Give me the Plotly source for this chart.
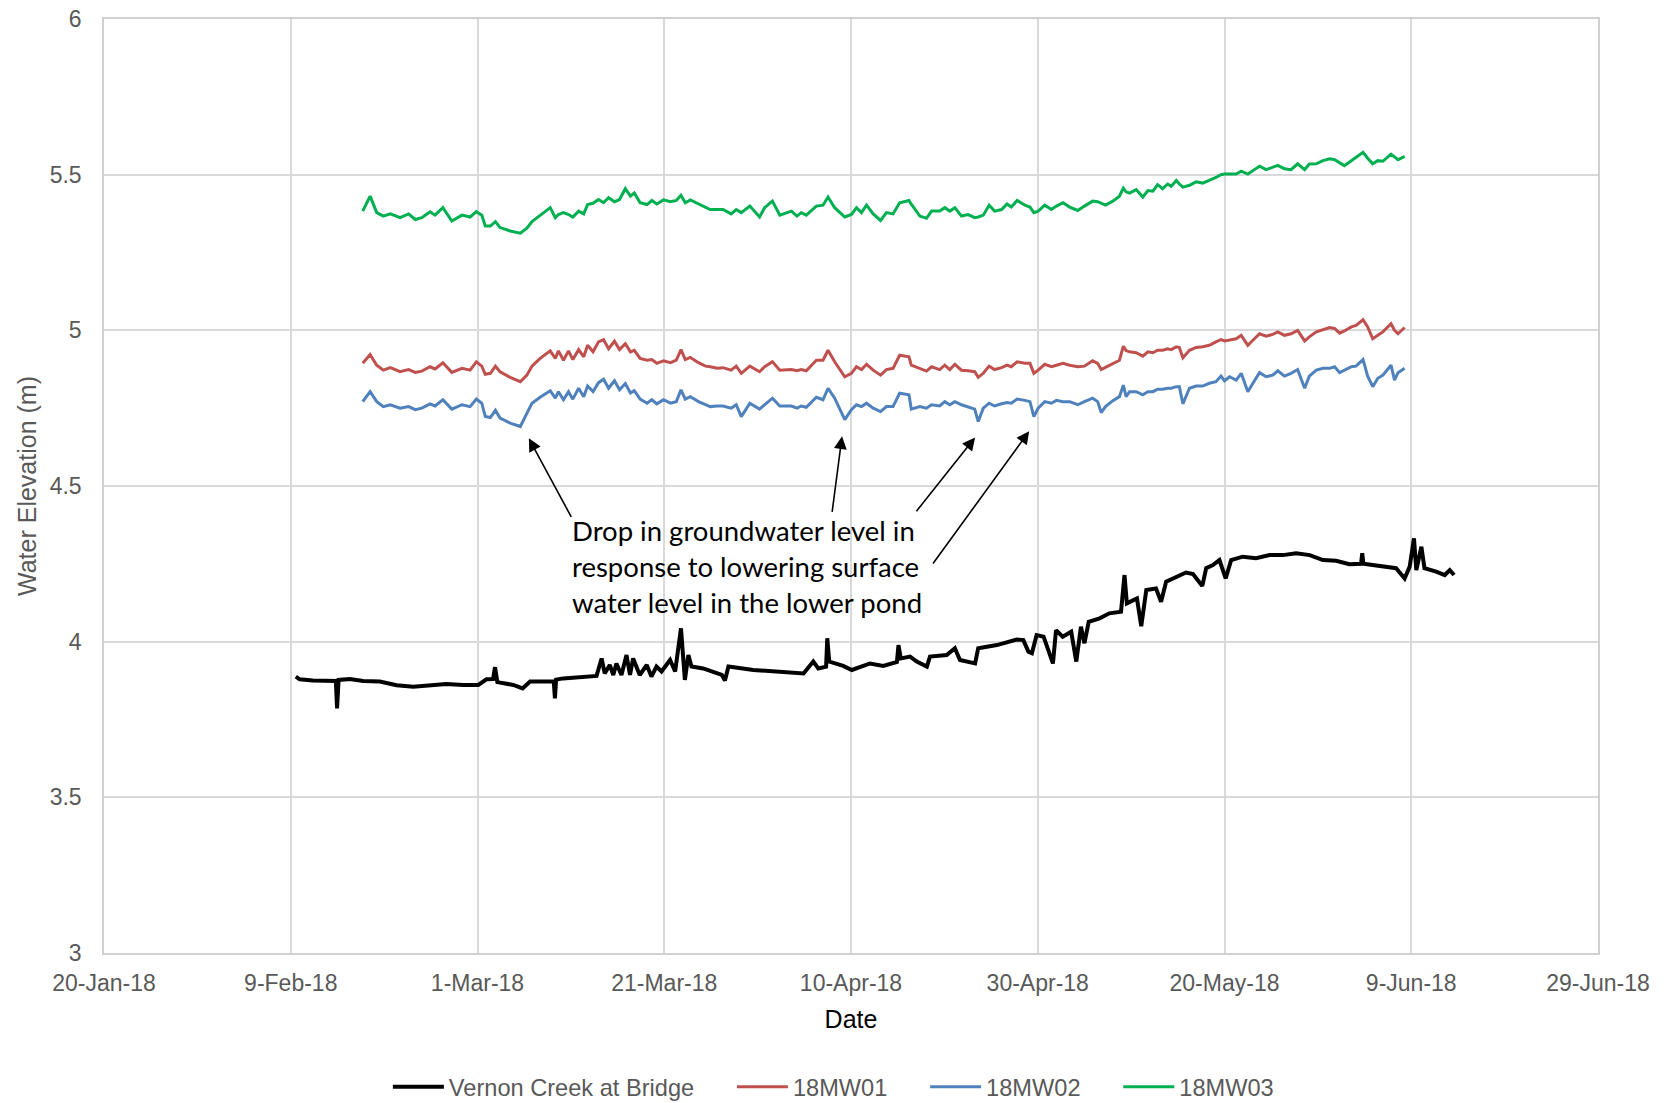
import plotly.graph_objects as go

# ---------------- data ----------------
mw_dates = [
    "2018-02-16 17:00", "2018-02-17 12:00", "2018-02-18 05:00", "2018-02-18 22:00", "2018-02-19 16:00",
    "2018-02-20 17:00", "2018-02-21 15:00", "2018-02-22 08:00", "2018-02-23 01:00", "2018-02-23 22:00",
    "2018-02-24 11:00", "2018-02-25 07:00", "2018-02-26 06:00", "2018-02-27 08:00", "2018-02-28 05:00",
    "2018-02-28 21:00", "2018-03-01 11:00", "2018-03-01 20:00", "2018-03-02 09:00", "2018-03-02 22:00",
    "2018-03-03 10:00", "2018-03-04 12:00", "2018-03-05 14:00", "2018-03-06 07:00", "2018-03-06 20:00",
    "2018-03-07 17:00", "2018-03-08 19:00", "2018-03-09 08:00", "2018-03-09 16:00", "2018-03-10 05:00",
    "2018-03-10 18:00", "2018-03-11 05:00", "2018-03-11 20:00", "2018-03-12 09:00", "2018-03-12 19:00",
    "2018-03-13 09:00", "2018-03-13 23:00", "2018-03-14 12:00", "2018-03-15 01:00", "2018-03-15 16:00",
    "2018-03-16 05:00", "2018-03-16 20:00", "2018-03-17 09:00", "2018-03-17 19:00", "2018-03-18 10:00",
    "2018-03-19 04:00", "2018-03-19 16:00", "2018-03-20 05:00", "2018-03-20 22:00", "2018-03-21 16:00",
    "2018-03-22 07:00", "2018-03-22 19:00", "2018-03-23 06:00", "2018-03-23 19:00", "2018-03-24 16:00",
    "2018-03-25 10:00", "2018-03-25 22:00", "2018-03-26 16:00",
    "2018-03-27 07:00", "2018-03-28 04:00", "2018-03-28 17:00", "2018-03-29 06:00", "2018-03-30 04:00",
    "2018-03-31 05:00", "2018-03-31 18:00", "2018-04-01 14:00", "2018-04-02 09:00", "2018-04-03 15:00",
    "2018-04-04 05:00", "2018-04-04 16:00", "2018-04-05 05:00", "2018-04-06 07:00", "2018-04-07 00:00",
    "2018-04-07 13:00", "2018-04-08 06:00", "2018-04-09 08:00", "2018-04-10 01:00", "2018-04-10 14:00",
    "2018-04-11 03:00", "2018-04-11 16:00", "2018-04-12 09:00", "2018-04-13 04:00", "2018-04-13 19:00",
    "2018-04-14 12:00", "2018-04-15 05:00", "2018-04-16 05:00", "2018-04-16 11:00", "2018-04-17 09:00",
    "2018-04-18 02:00", "2018-04-18 15:00", "2018-04-19 12:00", "2018-04-20 01:00", "2018-04-20 14:00",
    "2018-04-21 03:00", "2018-04-21 20:00", "2018-04-22 13:00", "2018-04-23 06:00", "2018-04-23 15:00",
    "2018-04-24 04:00", "2018-04-24 19:00", "2018-04-25 09:00", "2018-04-26 03:00", "2018-04-26 17:00",
    "2018-04-27 04:00", "2018-04-27 19:00", "2018-04-28 15:00", "2018-04-29 04:00", "2018-04-29 14:00",
    "2018-04-30 01:00", "2018-04-30 18:00", "2018-05-01 11:00", "2018-05-02 00:00", "2018-05-02 17:00",
    "2018-05-03 10:00", "2018-05-04 03:00",
    "2018-05-04 07:00", "2018-05-05 00:00", "2018-05-05 21:00", "2018-05-06 10:00", "2018-05-06 19:00",
    "2018-05-07 06:00", "2018-05-08 01:00", "2018-05-08 18:00", "2018-05-09 04:00", "2018-05-09 11:00",
    "2018-05-09 20:00", "2018-05-10 13:00", "2018-05-11 06:00", "2018-05-11 19:00", "2018-05-12 08:00",
    "2018-05-12 20:00", "2018-05-13 09:00", "2018-05-13 22:00", "2018-05-14 07:00", "2018-05-14 20:00",
    "2018-05-15 04:00", "2018-05-15 13:00", "2018-05-16 06:00", "2018-05-16 23:00", "2018-05-17 16:00",
    "2018-05-18 09:00", "2018-05-19 02:00", "2018-05-19 15:00", "2018-05-20 00:00", "2018-05-20 13:00",
    "2018-05-21 06:00", "2018-05-21 19:00", "2018-05-22 12:00", "2018-05-23 01:00", "2018-05-23 18:00",
    "2018-05-24 11:00", "2018-05-25 04:00", "2018-05-25 17:00", "2018-05-26 10:00", "2018-05-27 03:00",
    "2018-05-27 20:00", "2018-05-28 14:00", "2018-05-29 02:00", "2018-05-29 20:00", "2018-05-30 13:00",
    "2018-05-31 06:00", "2018-05-31 19:00", "2018-06-01 08:00", "2018-06-01 20:00", "2018-06-02 14:00",
    "2018-06-03 02:00", "2018-06-03 20:00", "2018-06-04 08:00", "2018-06-04 21:00", "2018-06-05 10:00",
    "2018-06-05 23:00", "2018-06-06 20:00", "2018-06-07 05:00", "2018-06-07 14:00", "2018-06-08 07:00",
]

mw03 = [
    5.383, 5.431, 5.378, 5.367, 5.374, 5.362, 5.374, 5.356, 5.362, 5.381,
    5.370, 5.394, 5.351, 5.370, 5.364, 5.381, 5.370, 5.335, 5.335, 5.349,
    5.330, 5.319, 5.312, 5.328, 5.349, 5.370, 5.394, 5.362, 5.372, 5.378,
    5.372, 5.364, 5.383, 5.374, 5.404, 5.408, 5.420, 5.410, 5.426, 5.413,
    5.420, 5.455, 5.431, 5.441, 5.410, 5.404, 5.417, 5.406, 5.419, 5.413,
    5.417, 5.434, 5.410, 5.419, 5.406, 5.396, 5.388, 5.388,
    5.388, 5.374, 5.388, 5.378, 5.399, 5.364, 5.394, 5.415, 5.370, 5.383,
    5.367, 5.378, 5.370, 5.399, 5.402, 5.428, 5.394, 5.364, 5.372, 5.394,
    5.378, 5.402, 5.374, 5.353, 5.378, 5.374, 5.410, 5.417, 5.405, 5.367,
    5.360, 5.383, 5.383, 5.394, 5.383, 5.394, 5.367, 5.372, 5.362, 5.364,
    5.370, 5.402, 5.383, 5.388, 5.406, 5.396, 5.417, 5.402, 5.396, 5.378,
    5.383, 5.402, 5.388, 5.399, 5.410, 5.396, 5.388,
    5.385, 5.399, 5.415, 5.413, 5.408, 5.402, 5.415, 5.431, 5.457, 5.445,
    5.441, 5.452, 5.428, 5.449, 5.447, 5.468, 5.455, 5.470, 5.463, 5.481,
    5.470, 5.460, 5.466, 5.477, 5.473, 5.481, 5.491, 5.500, 5.502, 5.502,
    5.502, 5.511, 5.502, 5.513, 5.527, 5.516, 5.523, 5.530, 5.519, 5.516,
    5.535, 5.516, 5.534, 5.535, 5.545, 5.551, 5.548, 5.537, 5.529, 5.545,
    5.555, 5.572, 5.553, 5.535, 5.545, 5.543, 5.566, 5.558, 5.548, 5.559,
]

mw01 = [
    4.894, 4.922, 4.888, 4.872, 4.880, 4.867, 4.874, 4.865, 4.869, 4.883,
    4.876, 4.896, 4.865, 4.878, 4.872, 4.899, 4.885, 4.859, 4.862, 4.885,
    4.867, 4.849, 4.835, 4.856, 4.885, 4.910, 4.934, 4.910, 4.934, 4.904,
    4.934, 4.906, 4.938, 4.915, 4.952, 4.931, 4.963, 4.970, 4.941, 4.965,
    4.938, 4.957, 4.931, 4.936, 4.910, 4.904, 4.906, 4.894, 4.902, 4.896,
    4.904, 4.938, 4.906, 4.913, 4.896, 4.885, 4.883, 4.878,
    4.880, 4.872, 4.885, 4.862, 4.885, 4.867, 4.883, 4.899, 4.872, 4.874,
    4.870, 4.874, 4.870, 4.904, 4.904, 4.936, 4.899, 4.851, 4.862, 4.883,
    4.874, 4.891, 4.872, 4.856, 4.874, 4.878, 4.920, 4.915, 4.888, 4.878,
    4.869, 4.883, 4.874, 4.888, 4.874, 4.891, 4.872, 4.870, 4.867, 4.849,
    4.862, 4.885, 4.874, 4.880, 4.888, 4.883, 4.899, 4.894, 4.894, 4.862,
    4.872, 4.891, 4.883, 4.888, 4.894, 4.888, 4.883,
    4.883, 4.885, 4.902, 4.894, 4.874, 4.881, 4.894, 4.904, 4.949, 4.935,
    4.931, 4.928, 4.917, 4.931, 4.928, 4.936, 4.936, 4.941, 4.938, 4.947,
    4.945, 4.912, 4.936, 4.945, 4.947, 4.952, 4.963, 4.970, 4.966, 4.968,
    4.973, 4.984, 4.952, 4.968, 4.989, 4.981, 4.987, 4.995, 4.984, 4.989,
    5.000, 4.966, 4.979, 4.995, 5.002, 5.009, 5.006, 4.991, 4.998, 5.011,
    5.016, 5.034, 5.011, 4.973, 4.984, 4.995, 5.021, 5.000, 4.989, 5.009,
]

mw02 = [
    4.771, 4.803, 4.771, 4.755, 4.761, 4.750, 4.755, 4.745, 4.750, 4.764,
    4.757, 4.777, 4.747, 4.761, 4.755, 4.779, 4.766, 4.723, 4.720, 4.743,
    4.718, 4.702, 4.691, 4.734, 4.766, 4.785, 4.806, 4.782, 4.803, 4.777,
    4.803, 4.779, 4.814, 4.787, 4.821, 4.803, 4.832, 4.843, 4.814, 4.838,
    4.809, 4.829, 4.799, 4.806, 4.779, 4.766, 4.777, 4.764, 4.777, 4.766,
    4.771, 4.809, 4.779, 4.787, 4.771, 4.761, 4.755, 4.757,
    4.757, 4.750, 4.761, 4.723, 4.766, 4.747, 4.761, 4.782, 4.757, 4.757,
    4.750, 4.757, 4.753, 4.785, 4.777, 4.814, 4.782, 4.713, 4.745, 4.761,
    4.755, 4.766, 4.750, 4.739, 4.755, 4.755, 4.798, 4.793, 4.747, 4.755,
    4.750, 4.761, 4.757, 4.771, 4.761, 4.771, 4.761, 4.755, 4.747, 4.707,
    4.750, 4.766, 4.757, 4.764, 4.768, 4.766, 4.779, 4.775, 4.771, 4.723,
    4.750, 4.771, 4.766, 4.775, 4.771, 4.771, 4.764,
    4.761, 4.771, 4.782, 4.771, 4.736, 4.755, 4.774, 4.787, 4.824, 4.787,
    4.803, 4.803, 4.793, 4.803, 4.803, 4.811, 4.811, 4.814, 4.814, 4.819,
    4.819, 4.764, 4.814, 4.821, 4.821, 4.830, 4.835, 4.853, 4.838, 4.851,
    4.840, 4.862, 4.803, 4.830, 4.864, 4.851, 4.856, 4.870, 4.853, 4.862,
    4.874, 4.814, 4.853, 4.872, 4.878, 4.878, 4.883, 4.864, 4.872, 4.883,
    4.885, 4.906, 4.853, 4.819, 4.846, 4.856, 4.888, 4.840, 4.864, 4.878,
]

creek_dates = [
    "2018-02-09 13:00", "2018-02-09 23:00", "2018-02-11 09:00", "2018-02-13 04:00", "2018-02-13 20:00",
    "2018-02-13 23:00", "2018-02-14 03:00", "2018-02-15 08:00", "2018-02-16 18:00", "2018-02-18 13:00",
    "2018-02-20 08:00", "2018-02-22 03:00", "2018-02-23 21:00", "2018-02-25 16:00", "2018-02-27 11:00",
    "2018-03-01 02:00", "2018-03-01 23:00", "2018-03-02 16:00", "2018-03-02 21:00", "2018-03-03 03:00",
    "2018-03-04 20:00", "2018-03-05 20:00", "2018-03-06 15:00", "2018-03-08 09:00", "2018-03-09 04:00",
    "2018-03-09 07:00", "2018-03-09 10:00", "2018-03-10 04:00", "2018-03-11 23:00", "2018-03-13 18:00",
    "2018-03-14 07:00", "2018-03-14 15:00", "2018-03-15 04:00", "2018-03-15 13:00", "2018-03-15 21:00",
    "2018-03-16 10:00", "2018-03-16 23:00", "2018-03-17 08:00", "2018-03-17 16:00", "2018-03-18 09:00",
    "2018-03-19 03:00", "2018-03-19 15:00", "2018-03-20 04:00", "2018-03-20 17:00",
    "2018-03-21 15:00", "2018-03-22 04:00", "2018-03-22 19:00", "2018-03-23 05:00", "2018-03-23 14:00",
    "2018-03-23 22:00", "2018-03-25 04:00", "2018-03-27 04:00", "2018-03-27 12:00", "2018-03-27 21:00",
    "2018-03-30 13:00", "2018-04-02 10:00", "2018-04-04 22:00", "2018-04-05 23:00", "2018-04-06 12:00",
    "2018-04-07 08:00", "2018-04-07 11:00", "2018-04-07 16:00", "2018-04-09 04:00", "2018-04-10 02:00",
    "2018-04-12 01:00", "2018-04-13 11:00", "2018-04-14 22:00", "2018-04-15 02:00", "2018-04-15 08:00",
    "2018-04-16 08:00", "2018-04-17 01:00", "2018-04-18 03:00", "2018-04-18 11:00", "2018-04-20 06:00",
    "2018-04-21 03:00", "2018-04-21 16:00", "2018-04-23 07:00", "2018-04-23 15:00", "2018-04-25 15:00",
    "2018-04-27 18:00", "2018-04-28 11:00", "2018-04-29 00:00", "2018-04-29 09:00", "2018-04-29 21:00",
    "2018-04-30 15:00",
    "2018-05-01 15:00", "2018-05-01 23:00", "2018-05-02 16:00", "2018-05-03 14:00", "2018-05-04 03:00",
    "2018-05-04 15:00", "2018-05-05 00:00", "2018-05-05 11:00", "2018-05-06 15:00", "2018-05-07 16:00",
    "2018-05-08 22:00", "2018-05-09 07:00", "2018-05-09 13:00", "2018-05-10 15:00", "2018-05-11 02:00",
    "2018-05-11 15:00", "2018-05-12 16:00", "2018-05-13 05:00", "2018-05-13 18:00", "2018-05-14 20:00",
    "2018-05-15 21:00", "2018-05-16 15:00", "2018-05-17 15:00", "2018-05-18 01:00", "2018-05-18 18:00",
    "2018-05-19 11:00", "2018-05-20 03:00", "2018-05-20 17:00", "2018-05-21 23:00", "2018-05-23 09:00",
    "2018-05-24 20:00", "2018-05-26 06:00", "2018-05-27 16:00", "2018-05-29 03:00", "2018-05-30 13:00",
    "2018-05-31 23:00", "2018-06-02 09:00", "2018-06-03 15:00", "2018-06-03 18:00", "2018-06-03 21:00",
    "2018-06-05 23:00", "2018-06-07 09:00", "2018-06-08 07:00", "2018-06-08 20:00", "2018-06-09 07:00",
    "2018-06-09 13:00", "2018-06-10 02:00", "2018-06-10 10:00", "2018-06-11 16:00", "2018-06-12 14:00",
    "2018-06-13 03:00", "2018-06-13 14:00",
]

creek = [
    3.888, 3.879, 3.875, 3.872, 3.874, 3.786, 3.877, 3.880, 3.874, 3.872,
    3.860, 3.855, 3.861, 3.864, 3.861, 3.861, 3.879, 3.880, 3.918, 3.870,
    3.861, 3.850, 3.872, 3.872, 3.872, 3.818, 3.878, 3.882, 3.885, 3.890,
    3.946, 3.898, 3.925, 3.893, 3.930, 3.893, 3.957, 3.893, 3.946, 3.893,
    3.925, 3.888, 3.920, 3.904,
    3.941, 3.904, 4.043, 3.877, 3.957, 3.920, 3.914, 3.893, 3.875, 3.920,
    3.909, 3.904, 3.898, 3.936, 3.914, 3.920, 4.011, 3.936, 3.922, 3.909,
    3.930, 3.922, 3.935, 3.989, 3.946, 3.952, 3.936, 3.920, 3.952, 3.957,
    3.979, 3.941, 3.930, 3.979, 3.989, 4.007, 4.005, 3.968, 3.963, 4.021,
    4.016,
    3.930, 4.037, 4.016, 4.032, 3.936, 4.048, 3.995, 4.064, 4.075, 4.091,
    4.096, 4.214, 4.123, 4.139, 4.050, 4.166, 4.171, 4.128, 4.193, 4.207,
    4.222, 4.217, 4.179, 4.236, 4.246, 4.262, 4.203, 4.262, 4.273, 4.268,
    4.278, 4.278, 4.284, 4.278, 4.262, 4.260, 4.249, 4.250, 4.284, 4.250,
    4.241, 4.236, 4.203, 4.241, 4.332, 4.230, 4.305, 4.236, 4.225, 4.214,
    4.230, 4.214,
]

series_names = ["Vernon Creek at Bridge", "18MW01", "18MW02", "18MW03"]
x_range = ["2018-01-20", "2018-06-29"]
y_range = [3, 6]
note_text = ("Drop in groundwater level in<br>response to lowering surface<br>"
             "water level in the lower pond")
# arrow (tail date, tail value, head date, head value)
arrows = [
    ("2018-03-11 03:00", 4.396, "2018-03-06 12:00", 4.653),
    ("2018-04-07 23:00", 4.412, "2018-04-09 01:00", 4.660),
    ("2018-04-16 21:00", 4.414, "2018-04-23 07:00", 4.656),
    ("2018-04-18 16:00", 4.246, "2018-04-29 02:00", 4.676),
]

# ---------------- figure ----------------
NB = "\u00a0"
fig = go.Figure()
fig.add_trace(go.Scatter(x=creek_dates, y=creek, mode="lines", name=series_names[0] + NB * 5,
                         line=dict(color="#000000", width=4)))
fig.add_trace(go.Scatter(x=mw_dates, y=mw01, mode="lines", name=series_names[1] + NB * 5,
                         line=dict(color="#c0504d", width=3)))
fig.add_trace(go.Scatter(x=mw_dates, y=mw02, mode="lines", name=series_names[2] + NB * 5,
                         line=dict(color="#4f81bd", width=3)))
fig.add_trace(go.Scatter(x=mw_dates, y=mw03, mode="lines", name=series_names[3],
                         line=dict(color="#00b050", width=3)))

for tx, ty, hx, hy in arrows:
    fig.add_annotation(x=hx, y=hy, ax=tx, ay=ty, xref="x", yref="y", axref="x", ayref="y",
                       text="", showarrow=True, arrowhead=2, arrowsize=1.6, arrowwidth=1.6,
                       arrowcolor="#000000", standoff=0, startstandoff=0)

fig.add_annotation(x=0.3122, y=0.4133, xref="paper", yref="paper", xanchor="left", yanchor="middle",
                   text=note_text, showarrow=False, align="left",
                   font=dict(family="Lato, Open Sans, sans-serif", size=27.5, color="#000000"))

tick_font = dict(family="Liberation Sans, Arial, sans-serif", size=23, color="#595959")
fig.update_layout(
    width=1674, height=1103,
    margin=dict(l=104, r=76, t=19, b=150, autoexpand=False),
    paper_bgcolor="white", plot_bgcolor="white",
    font=dict(family="Liberation Sans, Arial, sans-serif", color="#595959"),
    xaxis=dict(
        type="date", range=x_range, tick0=x_range[0], dtick=20 * 86400000,
        tickformat="%-d-%b-%y", tickfont=tick_font, showgrid=True, gridcolor="#d9d9d9", gridwidth=1.5,
        showline=True, linecolor="#d0d0d0", linewidth=1.5, mirror=True, zeroline=False,
        ticks="", ticklabelstandoff=9, automargin=False, ticklabeloverflow="allow",
        title=dict(text="Date", font=dict(family="Liberation Sans, Arial, sans-serif", size=25,
                                          color="#000000"), standoff=15),
    ),
    yaxis=dict(
        range=y_range, tick0=3, dtick=0.5, tickfont=tick_font, showgrid=True,
        gridcolor="#d9d9d9", gridwidth=1.5, showline=True, linecolor="#d0d0d0", linewidth=1.5,
        mirror=True, zeroline=False, ticks="", ticklabelstandoff=16, automargin=False,
        ticklabeloverflow="allow",
        title=dict(text="Water Elevation (m)", font=dict(family="Liberation Sans, Arial, sans-serif",
                                                         size=25, color="#595959"), standoff=6),
    ),
    legend=dict(orientation="h", xref="container", yref="container", x=0.2317, y=0.0145,
                xanchor="left", yanchor="middle", font=dict(size=23.6, color="#595959"),
                itemwidth=51, bgcolor="rgba(0,0,0,0)"),
    showlegend=True,
)

# remove the default 8px page margin so the figure fills the window exactly
fig.write_html("out.html", config={"displayModeBar": False},
               post_script="document.body.style.margin='0';document.body.style.overflow='hidden';")
